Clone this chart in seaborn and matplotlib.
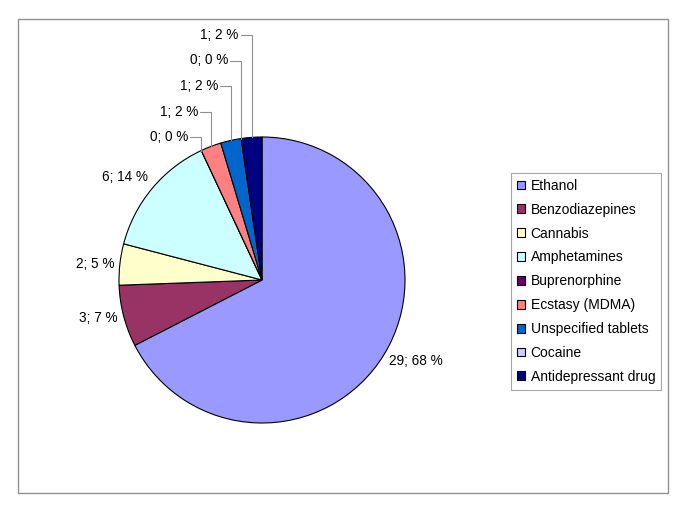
import matplotlib
matplotlib.use("Agg")
import matplotlib.pyplot as plt
import seaborn as sns
import numpy as np
from matplotlib.patches import Rectangle

categories = ["Ethanol", "Benzodiazepines", "Cannabis", "Amphetamines", "Buprenorphine",
              "Ecstasy (MDMA)", "Unspecified tablets", "Cocaine", "Antidepressant drug"]
counts = [29, 3, 2, 6, 0, 1, 1, 0, 1]
percents = [68, 7, 5, 14, 0, 2, 2, 0, 2]
colors = ["#9999FF", "#993366", "#FFFFCC", "#CCFFFF", "#660066",
          "#FF8080", "#0066CC", "#CCCCFF", "#000080"]

sns.set_theme(style="white")
plt.rcParams['font.family'] = ['Liberation Sans', 'DejaVu Sans']

W, H = 685, 513
fig = plt.figure(figsize=(W / 100, H / 100), dpi=100)
ax = fig.add_axes([0, 0, 1, 1])

cx, cy, R = 262, H - 280, 143
wedges, _ = ax.pie(counts, colors=colors, startangle=90, counterclock=False,
                   center=(cx, cy), radius=R,
                   wedgeprops=dict(edgecolor="black", linewidth=0.8))
ax.set_xlim(0, W)
ax.set_ylim(0, H)
ax.set_aspect("auto")
ax.axis("off")

total = sum(counts)
fs = 9.8
cum = 0
k = 0
for i, (v, p) in enumerate(zip(counts, percents)):
    start = 90 - 360 * cum / total
    cum += v
    end = 90 - 360 * cum / total
    mid = np.deg2rad((start + end) / 2)
    txt = f"{v}; {p} %"
    ex, ey = cx + R * np.cos(mid), cy + R * np.sin(mid)
    if v / total >= 0.04:
        rr = R * 1.04
        tx, ty = cx + rr * np.cos(mid), cy + rr * np.sin(mid)
        right = np.cos(mid) > 0
        ha = "left" if right else "right"
        dy = -4 if right else (8 if np.sin(mid) > 0.5 else 0)
        ax.text(tx, ty + dy, txt, ha=ha, va="center", fontsize=fs, color="black")
    else:
        ly = (H - 137) + 25.5 * k
        k += 1
        ax.plot([ex - 11, ex, ex], [ly, ly, ey], color="#909090", lw=0.8)
        ax.text(ex - 13, ly, txt, ha="right", va="center", fontsize=fs, color="black")

# outer frame
ax.add_patch(Rectangle((18, H - 493), 650, 474, fill=False, edgecolor="#909090", lw=1))

leg = ax.legend(wedges, categories, loc="upper left",
                bbox_to_anchor=(511 / W, 1 - 173 / H), bbox_transform=ax.transAxes,
                frameon=True, fancybox=False, edgecolor="#909090", fontsize=10,
                handlelength=0.6, handleheight=0.6, handletextpad=0.4,
                labelspacing=0.71, borderpad=0.42, borderaxespad=0)
leg.get_frame().set_linewidth(0.8)
for t in leg.get_texts():
    t.set_color("black")

fig.savefig("out.png", dpi=100, facecolor="white")
